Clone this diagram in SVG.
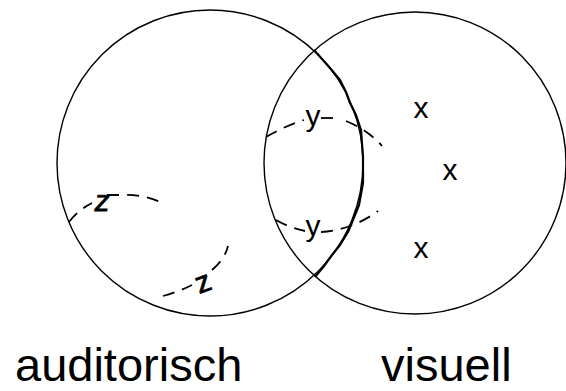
<svg xmlns="http://www.w3.org/2000/svg" width="566" height="391" viewBox="0 0 566 391">
<style>
.c{fill:none;stroke:#000;stroke-width:1.4}
.d{fill:none;stroke:#000;stroke-width:1.8;stroke-dasharray:12 8}
.t{font-family:"Liberation Sans",Arial,sans-serif;fill:#000}
.s{font-size:30px;text-anchor:middle}
.b{font-size:47px}
</style>
<rect width="566" height="391" fill="#fff"/>
<g id="auditorisch">
<circle class="c" cx="210" cy="163" r="153"/>
<path d="M314,50 L330,68 L340,80 L346,92 L350,103 L356,115 L361,130 L363,157 L363,183 L359,205 L355,215 L348,232 L340,245 L332,255 L324,266 L315,277" fill="none" stroke="#000" stroke-width="2.2" stroke-linejoin="round"/>
<text class="t b" x="15" y="381">auditorisch</text>
</g>
<g id="visuell">
<circle class="c" cx="415" cy="163" r="151"/>
<text class="t b" x="381" y="381">visuell</text>
</g>
<g id="connectors">
<path class="d" d="M266,137 Q285,126 304,120"/>
<path class="d" d="M321,118 L337,118"/>
<path class="d" d="M346,121 Q368,130 382,146" stroke-dasharray="16 10"/>
<path class="d" d="M276,220 Q290,228 305,231"/>
<path class="d" d="M321,232 Q352,230 378,211"/>
<path class="d" d="M69,222 Q78,210 92,203"/>
<path class="d" d="M107,195 L120,195 Q145,194 162,203"/>
<path class="d" d="M163,296 Q178,292 192,285"/>
<path class="d" d="M212,270 Q225,259 228,246"/>
</g>
<g id="labels">
<text class="t s" x="313" y="126">y</text>
<text class="t s" x="313" y="236">y</text>
<text class="t s" x="101" y="211" transform="skewX(-10) translate(37,0)" style="stroke:#000;stroke-width:0.8">z</text>
<text class="t s" x="203" y="292" transform="rotate(-20 203 282)" style="stroke:#000;stroke-width:0.8">z</text>
<text class="t s" x="421" y="118">x</text>
<text class="t s" x="450" y="180">x</text>
<text class="t s" x="421" y="258">x</text>
</g>
</svg>
